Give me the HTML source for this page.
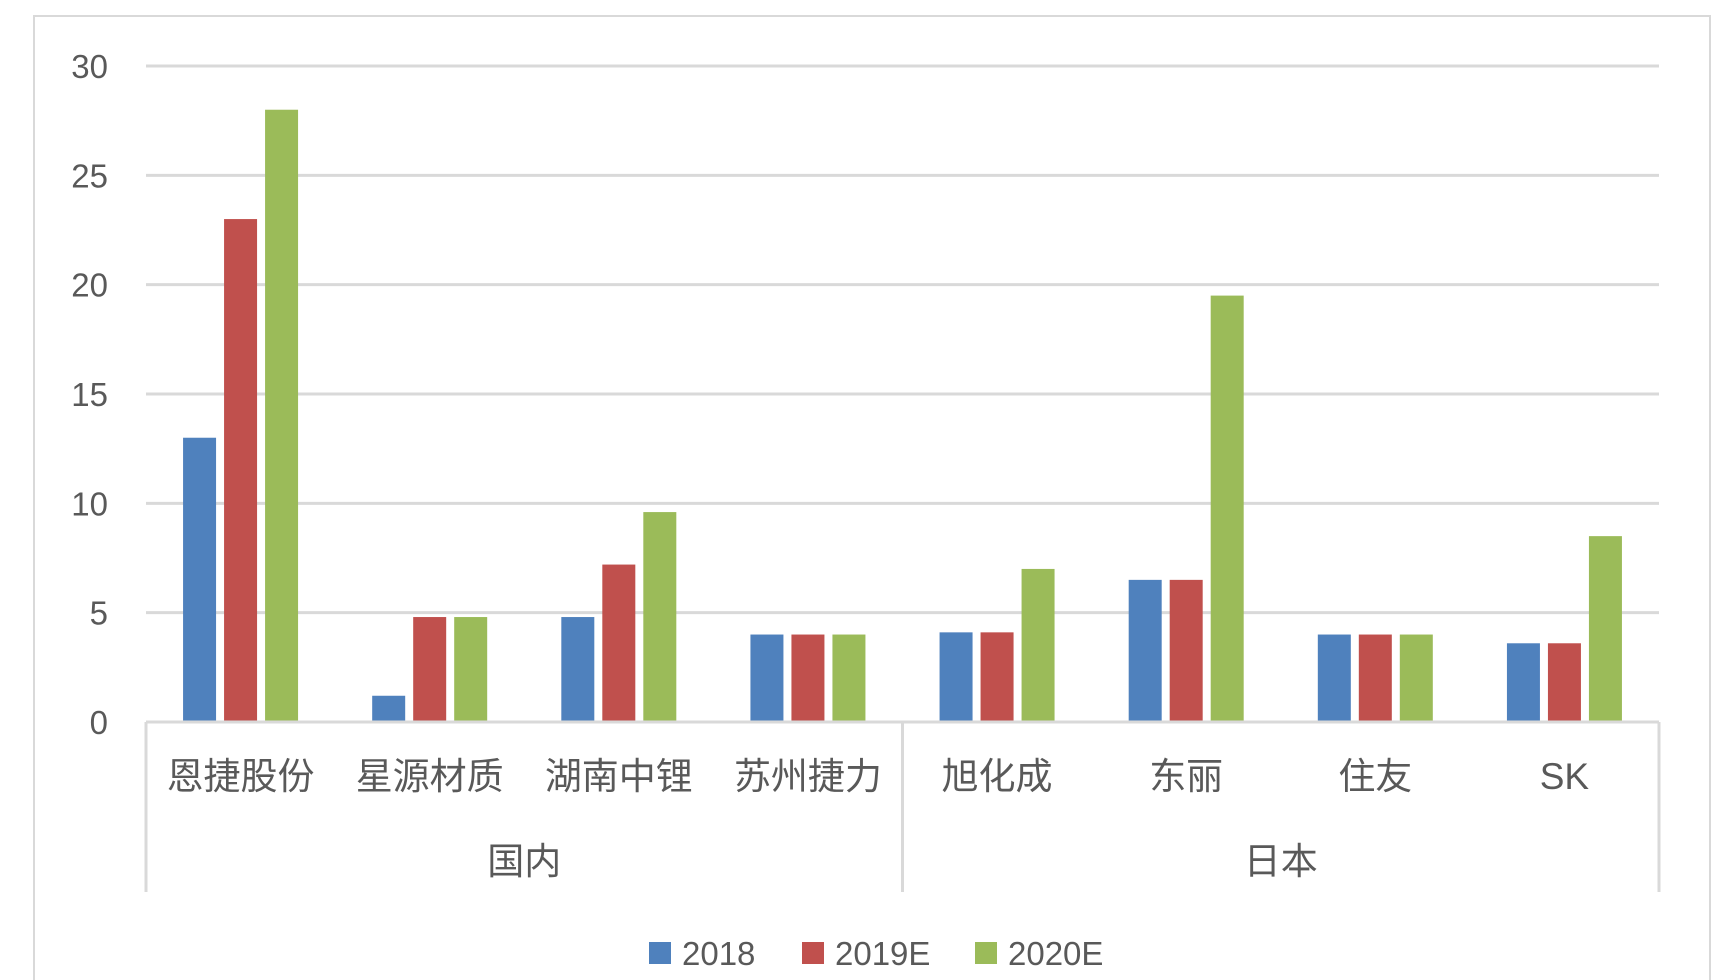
<!DOCTYPE html>
<html><head><meta charset="utf-8">
<style>
body{margin:0;background:#fff;}
svg{display:block;font-family:"Liberation Sans","Noto Sans CJK SC",sans-serif;}
</style></head>
<body>
<svg id="chart" width="1726" height="980">
<rect x="34" y="16" width="1676" height="970" fill="#fff" stroke="#d9d9d9" stroke-width="2"/>
<g id="grid"></g>
<g id="yticks"></g>
<g id="bars"></g>
<g id="xaxis"></g>
<g id="legend"></g>
</svg>
<script>
const categories=["恩捷股份","星源材质","湖南中锂","苏州捷力","旭化成","东丽","住友","SK"];
const groups=["国内","日本"];
const groupSizes=[4,4];
const seriesNames=["2018","2019E","2020E"];
const s2018=[13,1.2,4.8,4,4.1,6.5,4,3.6];
const s2019=[23,4.8,7.2,4,4.1,6.5,4,3.6];
const s2020=[28,4.8,9.6,4,7,19.5,4,8.5];
const yTicks=[0,5,10,15,20,25,30];
const colors=["#4f81bd","#c0504d","#9bbb59"];
const series=[s2018,s2019,s2020];
const NS="http://www.w3.org/2000/svg";
const X0=146,X1=1659,Y0=722,Y1=66,YMAX=30;
const cw=(X1-X0)/categories.length;
const y=v=>Y0-(v/YMAX)*(Y0-Y1);
function mk(tag,attrs,parent,text){const e=document.createElementNS(NS,tag);for(const k in attrs)e.setAttribute(k,attrs[k]);if(text!==undefined)e.textContent=text;parent.appendChild(e);return e;}
const grid=document.getElementById('grid'),yt=document.getElementById('yticks'),bars=document.getElementById('bars'),xa=document.getElementById('xaxis'),lg=document.getElementById('legend');
yTicks.forEach(t=>{
  if(t>0){const l=mk('line',{x1:X0,x2:X1,y1:y(t),y2:y(t),stroke:'#d9d9d9','stroke-width':3},grid);
  
  }
  const tx=mk('text',{x:108,y:y(t)+12,'text-anchor':'end','font-size':33,fill:'#595959'},yt,String(t));
  
  
});
const bw=33,gap=8;
categories.forEach((c,i)=>{
  const cx=X0+cw*(i+0.5);
  series.forEach((s,j)=>{
    const bx=cx-1.5*bw-gap+j*(bw+gap);
    const r=mk('rect',{x:bx,y:y(s[i]),width:bw,height:Y0-y(s[i]),fill:colors[j]},bars);
    
    
  });
  const t=mk('text',{x:cx,y:789,'text-anchor':'middle','font-size':37,fill:'#595959'},xa,c);
  
  
});
mk('line',{x1:X0,x2:X1,y1:Y0,y2:Y0,stroke:'#d9d9d9','stroke-width':3},xa);
let acc=0;
const seps=[0];
groups.forEach((g,gi)=>{
  const gx=X0+cw*(acc+groupSizes[gi]/2);
  const t=mk('text',{x:gx,y:874,'text-anchor':'middle','font-size':37,fill:'#595959'},xa,g);
  
  
  acc+=groupSizes[gi];seps.push(acc);
});
seps.forEach(k=>{
  const l=mk('line',{x1:X0+cw*k,x2:X0+cw*k,y1:Y0,y2:892,stroke:'#d9d9d9','stroke-width':3},xa);
  
  
});
const lx=[649,802,975];
seriesNames.forEach((n,j)=>{
  const r=mk('rect',{x:lx[j],y:942,width:22,height:22,fill:colors[j]},lg);
  
  
  const t=mk('text',{x:lx[j]+33,y:965,'font-size':33,fill:'#595959'},lg,n);
  
  
});
</script>
</body></html>
